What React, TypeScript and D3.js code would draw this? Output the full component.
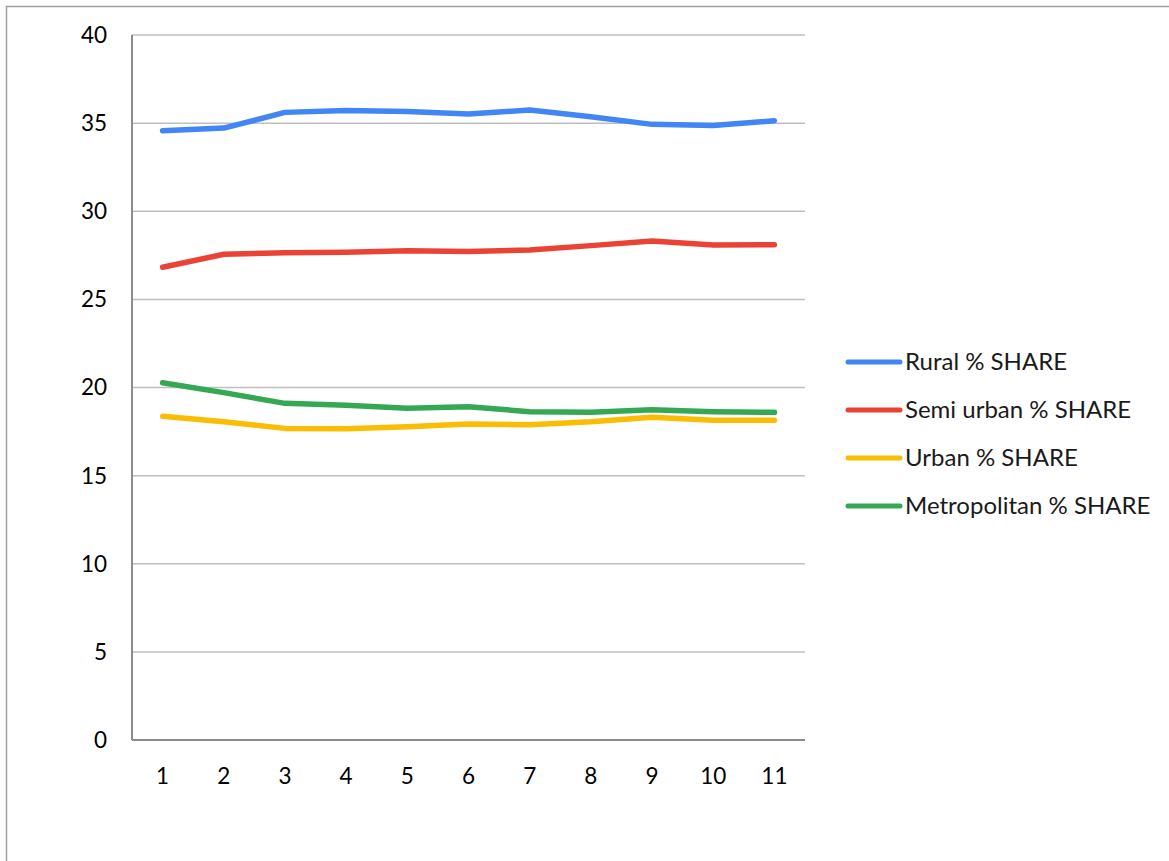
import React, { useEffect, useRef } from "react";
import * as d3 from "d3";

const categories = ["1", "2", "3", "4", "5", "6", "7", "8", "9", "10", "11"];
const rural = [34.57, 34.72, 35.61, 35.72, 35.66, 35.52, 35.74, 35.36, 34.93, 34.86, 35.14];
const semiUrban = [26.82, 27.56, 27.65, 27.67, 27.76, 27.72, 27.8, 28.05, 28.31, 28.09, 28.1];
const urban = [18.37, 18.06, 17.68, 17.66, 17.78, 17.93, 17.89, 18.06, 18.31, 18.14, 18.14];
const metropolitan = [20.27, 19.71, 19.1, 18.99, 18.82, 18.91, 18.63, 18.59, 18.74, 18.63, 18.59];
const yTicks = [0, 5, 10, 15, 20, 25, 30, 35, 40];

const seriesNames = ["Rural % SHARE", "Semi urban % SHARE", "Urban % SHARE", "Metropolitan % SHARE"];
const seriesValues = [rural, semiUrban, urban, metropolitan];
const seriesColors = ["#4285F4", "#EA4335", "#FBBC04", "#34A853"];

const W = 1169;
const H = 861;
const FONT = "Lato, 'Open Sans', sans-serif";

export default function App() {
  const ref = useRef<SVGSVGElement>(null);

  useEffect(() => {
    const svg = d3.select(ref.current);
    svg.selectAll("*").remove();

    const left = 132, right = 805, top = 35, bottom = 740;

    const x = d3.scaleBand<string>().domain(categories).range([left, right]);
    const y = d3.scaleLinear().domain([0, 40]).range([bottom, top]);

    // chart frame
    svg.append("rect")
      .attr("x", 6.5).attr("y", 6.5)
      .attr("width", W).attr("height", H)
      .attr("fill", "none").attr("stroke", "#a0a0a0").attr("stroke-width", 1.5);

    // gridlines
    svg.append("g").selectAll("line")
      .data(yTicks.filter((t) => t > 0))
      .join("line")
      .attr("x1", left).attr("x2", right)
      .attr("y1", (d) => y(d)).attr("y2", (d) => y(d))
      .attr("stroke", "#bfbfbf").attr("stroke-width", 1.5);

    // axes
    svg.append("line")
      .attr("x1", left).attr("x2", left).attr("y1", top).attr("y2", bottom)
      .attr("stroke", "#8c8c8c").attr("stroke-width", 2);
    svg.append("line")
      .attr("x1", left).attr("x2", right).attr("y1", bottom).attr("y2", bottom)
      .attr("stroke", "#8c8c8c").attr("stroke-width", 2);

    // y tick labels
    svg.append("g").selectAll("text")
      .data(yTicks)
      .join("text")
      .attr("x", 107).attr("y", (d) => y(d))
      .attr("dy", "0.35em")
      .attr("text-anchor", "end")
      .attr("font-family", FONT).attr("font-size", 22.5).attr("fill", "#000")
      .text((d) => String(d));

    // x tick labels
    svg.append("g").selectAll("text")
      .data(categories)
      .join("text")
      .attr("x", (d) => (x(d) as number) + x.bandwidth() / 2)
      .attr("y", 776).attr("dy", "0.35em")
      .attr("text-anchor", "middle")
      .attr("font-family", FONT).attr("font-size", 22.5).attr("fill", "#000")
      .text((d) => d);

    const line = d3.line<number>()
      .x((_, i) => (x(categories[i]) as number) + x.bandwidth() / 2)
      .y((v) => y(v));

    // series lines, drawn bottom-up so the first series sits on top
    const order = [3, 2, 1, 0];
    order.forEach((i) => {
      svg.append("path")
        .attr("d", line(seriesValues[i]) as string)
        .attr("fill", "none")
        .attr("stroke", seriesColors[i])
        .attr("stroke-width", 5.5)
        .attr("stroke-linecap", "round")
        .attr("stroke-linejoin", "round");
    });

    // legend
    const lg = svg.append("g");
    seriesNames.forEach((name, i) => {
      const ly = 362 + i * 48;
      lg.append("line")
        .attr("x1", 848).attr("x2", 900).attr("y1", ly).attr("y2", ly)
        .attr("stroke", seriesColors[i]).attr("stroke-width", 5)
        .attr("stroke-linecap", "round");
      lg.append("text")
        .attr("x", 905).attr("y", ly).attr("dy", "0.35em")
        .attr("font-family", FONT).attr("font-size", 24).attr("fill", "#1a1a1a")
        .text(name);
    });
  }, []);

  return (
    <svg
      ref={ref}
      width={W}
      height={H}
      style={{ position: "absolute", left: 0, top: 0, background: "#fff" }}
    />
  );
}
